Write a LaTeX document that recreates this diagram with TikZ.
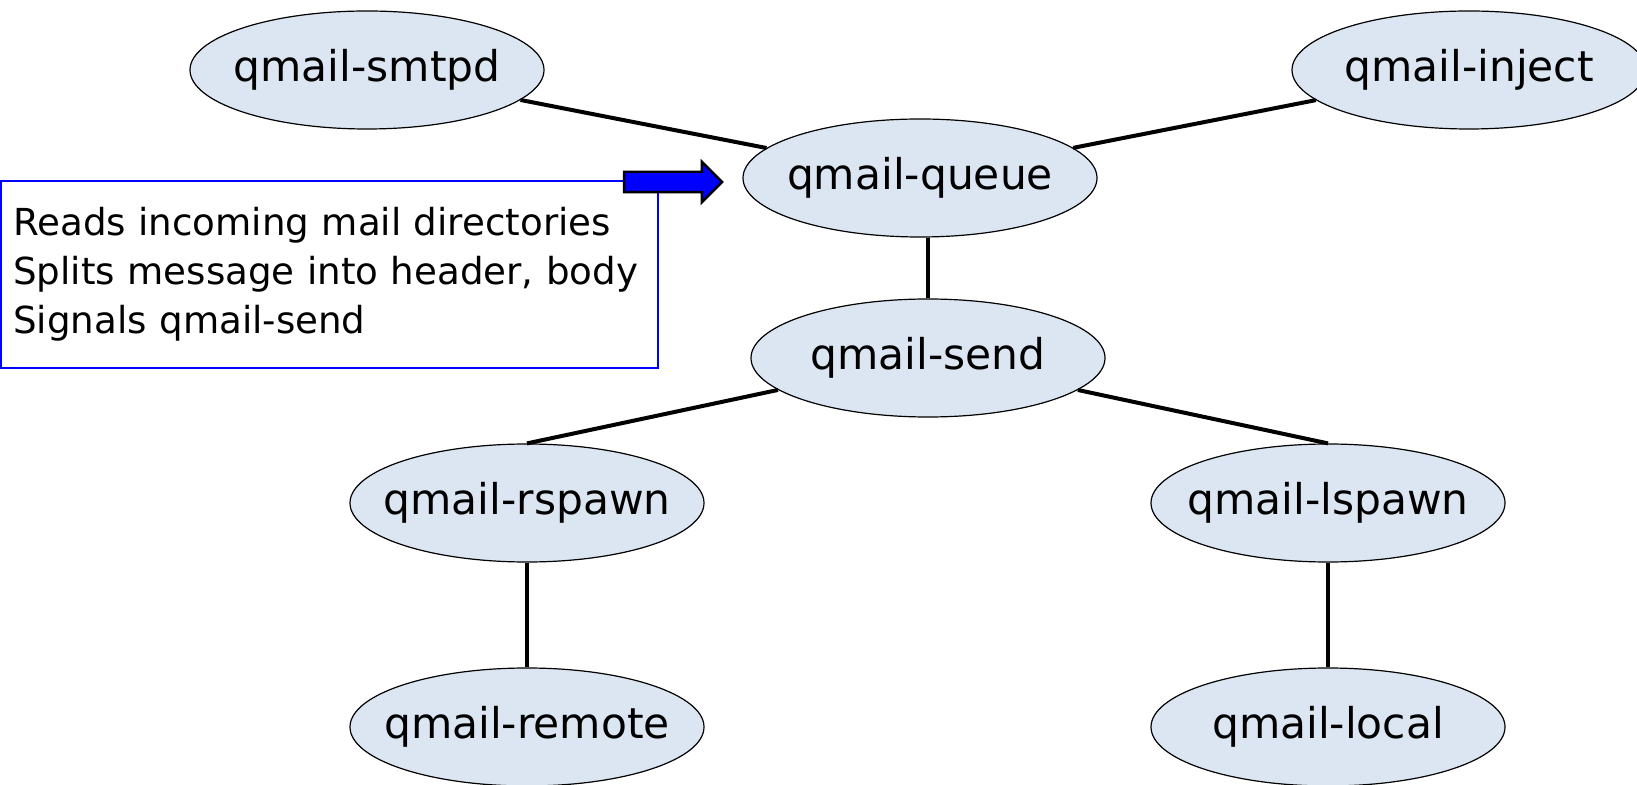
\documentclass[tikz,border=0pt]{standalone}
\usepackage{fontspec}
\setmainfont{DejaVu Sans}
\usetikzlibrary{shapes.geometric,shapes.arrows}
\definecolor{procfill}{RGB}{220,230,242}
\begin{document}
\begin{tikzpicture}[x=0.5pt,y=-0.5pt,
  proc/.style={draw,line width=0.6pt,ellipse,fill=procfill,minimum width=177pt,minimum height=59pt,inner xsep=-25pt,inner ysep=0pt,font=\fontsize{21.2pt}{25pt}\selectfont},
  link/.style={line width=2pt},
  note/.style={draw=blue,thick,anchor=north west,minimum width=328.5pt,minimum height=93.5pt,text width=316pt,align=left,inner sep=5pt,font=\fontsize{18.6pt}{24.5pt}\selectfont},
  pointer/.style={single arrow,draw,line width=1.2pt,fill=blue,minimum height=49pt,single arrow head extend=5pt,inner xsep=0pt,inner ysep=4.5pt}]
\useasboundingbox (0,0) rectangle (1637,785);
\node[proc] (smtpd)at(367,70){qmail-smtpd};
\node[proc] (inject)at(1469,70){qmail-inject};
\node[proc] (queue)at(920,178){qmail-queue};
\node[proc] (send)at(928,358){qmail-send};
\node[proc] (rspawn)at(527,503){qmail-rspawn};
\node[proc] (lspawn)at(1328,503){qmail-lspawn};
\node[proc] (remote)at(527,727){qmail-remote};
\node[proc] (local)at(1328,727){qmail-local};
\draw[link] (smtpd) to (queue);
\draw[link] (queue) to (inject);
\draw[link] (queue.south -| send) to (send);
\draw[link] (send) to (rspawn.north);
\draw[link] (send) to (lspawn.north);
\draw[link] (rspawn) to (remote);
\draw[link] (lspawn) to (local);
\node[note] (info)at(0,180){Reads incoming mail directories\\Splits message into header, body\\Signals qmail-send};
\node[pointer] (hint)at(668,182){};
\end{tikzpicture}
\end{document}
